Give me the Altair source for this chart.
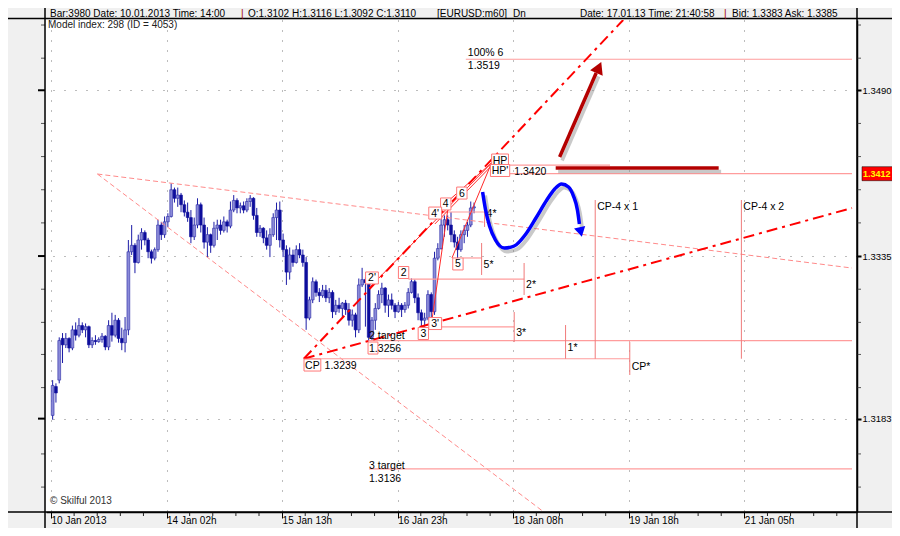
import altair as alt
import pandas as pd

# ---------------- candle data (EURUSD H1) ----------------
OPEN = [1.3186, 1.3213, 1.3219, 1.3258, 1.3252, 1.3258, 1.3249, 1.3266, 1.3261, 1.3270,
        1.3266, 1.3269, 1.3252, 1.3256, 1.3255, 1.3257, 1.3260, 1.3250, 1.3270, 1.3261,
        1.3275, 1.3258, 1.3254, 1.3266, 1.3339, 1.3345, 1.3329, 1.3350, 1.3357, 1.3350,
        1.3339, 1.3333, 1.3341, 1.3364, 1.3355, 1.3367, 1.3372, 1.3397, 1.3389, 1.3392,
        1.3383, 1.3376, 1.3371, 1.3353, 1.3364, 1.3383, 1.3364, 1.3348, 1.3355, 1.3345,
        1.3361, 1.3364, 1.3359, 1.3367, 1.3363, 1.3378, 1.3387, 1.3380, 1.3382, 1.3378,
        1.3386, 1.3389, 1.3373, 1.3357, 1.3361, 1.3352, 1.3345, 1.3355, 1.3371, 1.3378,
        1.3350, 1.3341, 1.3320, 1.3336, 1.3329, 1.3341, 1.3336, 1.3329, 1.3277, 1.3294,
        1.3311, 1.3301, 1.3298, 1.3303, 1.3296, 1.3301, 1.3283, 1.3289, 1.3286, 1.3291,
        1.3285, 1.3275, 1.3280, 1.3266, 1.3308, 1.3313, 1.3310, 1.3259, 1.3275, 1.3286,
        1.3299, 1.3305, 1.3289, 1.3294, 1.3289, 1.3283, 1.3289, 1.3285, 1.3289, 1.3301,
        1.3311, 1.3296, 1.3282, 1.3275, 1.3277, 1.3299, 1.3283, 1.3333, 1.3342, 1.3364,
        1.3369, 1.3364, 1.3355, 1.3348, 1.3341, 1.3355, 1.3359, 1.3364, 1.3380]
HIGH = [1.3219, 1.3216, 1.3259, 1.3263, 1.3263, 1.3259, 1.3270, 1.3273, 1.3277, 1.3273,
        1.3272, 1.3270, 1.3259, 1.3261, 1.3259, 1.3263, 1.3261, 1.3275, 1.3282, 1.3280,
        1.3277, 1.3268, 1.3278, 1.3350, 1.3364, 1.3347, 1.3355, 1.3361, 1.3359, 1.3352,
        1.3341, 1.3343, 1.3369, 1.3367, 1.3372, 1.3375, 1.3403, 1.3399, 1.3399, 1.3394,
        1.3387, 1.3385, 1.3378, 1.3371, 1.3389, 1.3385, 1.3371, 1.3362, 1.3356, 1.3367,
        1.3369, 1.3369, 1.3372, 1.3369, 1.3386, 1.3392, 1.3389, 1.3385, 1.3386, 1.3389,
        1.3392, 1.3390, 1.3380, 1.3364, 1.3362, 1.3359, 1.3361, 1.3375, 1.3385, 1.3386,
        1.3356, 1.3345, 1.3343, 1.3341, 1.3345, 1.3347, 1.3341, 1.3334, 1.3297, 1.3315,
        1.3313, 1.3305, 1.3308, 1.3308, 1.3305, 1.3303, 1.3294, 1.3296, 1.3292, 1.3294,
        1.3291, 1.3285, 1.3282, 1.3314, 1.3324, 1.3315, 1.3313, 1.3278, 1.3291, 1.3303,
        1.3310, 1.3306, 1.3299, 1.3300, 1.3291, 1.3292, 1.3291, 1.3292, 1.3305, 1.3314,
        1.3313, 1.3300, 1.3285, 1.3282, 1.3303, 1.3301, 1.3339, 1.3347, 1.3371, 1.3373,
        1.3373, 1.3376, 1.3359, 1.3353, 1.3359, 1.3364, 1.3367, 1.3386, 1.3385]
LOW = [1.3182, 1.3198, 1.3216, 1.3235, 1.3249, 1.3245, 1.3247, 1.3256, 1.3259, 1.3263,
       1.3259, 1.3249, 1.3249, 1.3252, 1.3254, 1.3254, 1.3247, 1.3247, 1.3255, 1.3259,
       1.3254, 1.3247, 1.3245, 1.3261, 1.3336, 1.3319, 1.3328, 1.3341, 1.3345, 1.3333,
       1.3328, 1.3331, 1.3339, 1.3350, 1.3352, 1.3362, 1.3371, 1.3385, 1.3381, 1.3376,
       1.3372, 1.3367, 1.3347, 1.3350, 1.3361, 1.3357, 1.3342, 1.3334, 1.3338, 1.3343,
       1.3350, 1.3355, 1.3357, 1.3357, 1.3361, 1.3376, 1.3375, 1.3375, 1.3375, 1.3376,
       1.3381, 1.3369, 1.3353, 1.3353, 1.3347, 1.3341, 1.3334, 1.3353, 1.3350, 1.3343,
       1.3334, 1.3308, 1.3313, 1.3325, 1.3328, 1.3333, 1.3325, 1.3266, 1.3275, 1.3291,
       1.3297, 1.3292, 1.3296, 1.3292, 1.3291, 1.3277, 1.3280, 1.3282, 1.3278, 1.3280,
       1.3270, 1.3269, 1.3259, 1.3263, 1.3306, 1.3269, 1.3256, 1.3256, 1.3266, 1.3285,
       1.3291, 1.3282, 1.3278, 1.3285, 1.3277, 1.3282, 1.3278, 1.3282, 1.3286, 1.3300,
       1.3291, 1.3275, 1.3269, 1.3269, 1.3275, 1.3278, 1.3280, 1.3331, 1.3341, 1.3353,
       1.3359, 1.3348, 1.3343, 1.3333, 1.3339, 1.3347, 1.3353, 1.3362, 1.3375]
CLOSE = [1.3214, 1.3207, 1.3256, 1.3252, 1.3258, 1.3249, 1.3266, 1.3261, 1.3270, 1.3266,
         1.3269, 1.3252, 1.3256, 1.3255, 1.3257, 1.3260, 1.3250, 1.3270, 1.3261, 1.3275,
         1.3258, 1.3254, 1.3266, 1.3339, 1.3345, 1.3329, 1.3350, 1.3357, 1.3350, 1.3339,
         1.3333, 1.3341, 1.3364, 1.3355, 1.3367, 1.3372, 1.3397, 1.3389, 1.3392, 1.3383,
         1.3376, 1.3371, 1.3353, 1.3364, 1.3383, 1.3364, 1.3348, 1.3355, 1.3345, 1.3361,
         1.3364, 1.3359, 1.3367, 1.3363, 1.3378, 1.3387, 1.3380, 1.3382, 1.3378, 1.3386,
         1.3389, 1.3373, 1.3357, 1.3361, 1.3352, 1.3345, 1.3355, 1.3371, 1.3378, 1.3350,
         1.3341, 1.3320, 1.3336, 1.3329, 1.3341, 1.3336, 1.3329, 1.3277, 1.3294, 1.3311,
         1.3301, 1.3298, 1.3303, 1.3296, 1.3301, 1.3283, 1.3289, 1.3286, 1.3291, 1.3285,
         1.3275, 1.3280, 1.3266, 1.3308, 1.3313, 1.3310, 1.3259, 1.3275, 1.3286, 1.3299,
         1.3305, 1.3289, 1.3294, 1.3289, 1.3283, 1.3289, 1.3285, 1.3289, 1.3301, 1.3311,
         1.3296, 1.3282, 1.3275, 1.3277, 1.3299, 1.3283, 1.3333, 1.3342, 1.3364, 1.3369,
         1.3364, 1.3355, 1.3348, 1.3341, 1.3355, 1.3359, 1.3364, 1.3380, 1.3381]

# ---------------- axes ----------------
X_LABEL_POS = [0, 35.1, 70.2, 105.3, 140.4, 175.5, 210.6]
X_LABELS = ["10 Jan 2013", "14 Jan 02h", "15 Jan 13h", "16 Jan 23h",
            "18 Jan 08h", "19 Jan 18h", "21 Jan 05h"]
Y_MAJOR = [1.3183, 1.3335, 1.3490]
Y_MINOR = [1.3119, 1.3150, 1.3212, 1.3243, 1.3273, 1.3304,
           1.3366, 1.3397, 1.3428, 1.3459, 1.3520, 1.3551]

# ---------------- annotations ----------------
DASH_PINK = [(14.1, 1.34117, 243.3, 1.33238), (14.1, 1.34117, 149.7, 1.30957)]
DASHDOT_RED = [(76.8, 1.3239, 173.8, 1.35557), (76.8, 1.3239, 243.3, 1.33799)]
THIN_RED = [(96.6, 1.33051, 133.8, 1.3422), (115.8, 1.33734, 133.8, 1.3422),
            (116.6, 1.33650, 134.0, 1.3420), (115.8, 1.32771, 120.6, 1.33799),
            (121.8, 1.33332, 133.8, 1.3422)]
H_LEVELS = [(126.0, 243.3, 1.3519), (133.2, 169.8, 1.3420), (139.2, 243.3, 1.3412),
            (96.6, 243.3, 1.3256), (96.6, 243.3, 1.3136), (76.8, 175.8, 1.3239),
            (108.6, 143.7, 1.33135), (118.2, 140.7, 1.32687), (125.1, 130.8, 1.33332),
            (118.2, 131.7, 1.33762)]
V_LEVELS = [(143.7, 1.33285, 1.32986), (140.7, 1.32827, 1.32546), (130.8, 1.33472, 1.33173),
            (131.7, 1.33762, 1.33622), (156.3, 1.32705, 1.3239), (165.3, 1.33874, 1.3239),
            (175.8, 1.32546, 1.32238), (209.7, 1.33874, 1.3239)]
BOX_TEXT = ["HP", "HP'", "6", "4", "4'", "2", "2'", "3'", "3", "5", "CP", ""]
BOX_X = [136.4, 136.4, 124.8, 119.9, 116.7, 107.1, 97.5, 116.7, 113.1, 123.6, 79.4, 97.8]
BOX_P = [1.34248, 1.34150, 1.33939, 1.33837, 1.33752, 1.33196, 1.33145, 1.32719,
         1.32626, 1.33276, 1.32331, 1.32490]
LAB_TEXT = ["100% 6", "1.3519", "1.3420", "CP-4 x 1", "CP-4 x 2", "2*", "3*", "5*", "4*",
            "1*", "CP*", "2 target", "1.3256", "1.3239", "3 target", "1.3136"]
LAB_X = [126.6, 126.6, 140.7, 165.9, 210.3, 144.3, 141.3, 131.4, 132.3,
         156.9, 176.4, 96.6, 96.6, 83.1, 96.6, 96.6]
LAB_P = [1.35248, 1.35127, 1.34136, 1.33808, 1.33808, 1.33079, 1.32630, 1.33266, 1.33743,
         1.32490, 1.32313, 1.32602, 1.32481, 1.32322, 1.31387, 1.31265]
BLUE_X = [131.1, 132.0, 133.2, 135.0, 137.7, 140.7, 144.0, 147.3, 150.6, 153.0,
          155.1, 157.2, 158.7, 159.9, 160.5]
BLUE_P = [1.33949, 1.33781, 1.33631, 1.33500, 1.33425, 1.33444, 1.33547, 1.33706,
          1.33874, 1.33977, 1.34024, 1.33996, 1.33911, 1.33781, 1.33650]
BLUE_HEAD = (160.9, 1.33575)
DRED_H = (153.3, 202.8, 1.34173)
DRED_ARROW = (154.5, 1.34276, 165.6, 1.35061)
DRED_HEAD = (166.4, 1.35113)
CURRENT_PRICE = 1.3412

# ---------------- layout ----------------
W, H = 811, 492
XDOM = [0, 243.3]
YDOM = [1.30957, 1.35557]
UPX = (XDOM[1] - XDOM[0]) / W
PPX = (YDOM[1] - YDOM[0]) / H
FONT = "Liberation Sans"
BULL, BEAR, WICK = "#8a8ad8", "#0d0d9c", "#1c1ca6"

xs = alt.Scale(domain=XDOM, nice=False, zero=False)
ys = alt.Scale(domain=YDOM, nice=False, zero=False)

xlab = " : ".join(f"datum.value == {p} ? '{t}'" for p, t in zip(X_LABEL_POS, X_LABELS)) + " : ''"
x_axis = alt.Axis(values=X_LABEL_POS, labelExpr=xlab, labelAlign="left", labelBaseline="top",
                  labelPadding=-3, labelFontSize=10, labelFont=FONT, labelColor="black",
                  labelOverlap=False, labelFlush=False, tickColor="black", tickSize=6,
                  tickWidth=1, grid=True, gridColor="#7a7a7a", gridDash=[1, 9],
                  domainColor="black", domainWidth=1.5, title=None)
y_axis = alt.Axis(values=Y_MAJOR, format=".4f", orient="right", labelPadding=1,
                  labelFontSize=9.5, labelFont=FONT, labelColor="black", labelOverlap=False,
                  labelFlush=False, tickColor="black", tickSize=4, tickWidth=2, grid=True,
                  gridColor="#7a7a7a", gridDash=[1, 10], domainColor="black",
                  domainWidth=1.5, title=None)


def X(f):
    return alt.X(f, type="quantitative", scale=xs, axis=x_axis, title=None)


def Y(f):
    return alt.Y(f, type="quantitative", scale=ys, axis=y_axis, title=None)


cdf = pd.DataFrame({"u": [i + 0.5 for i in range(len(CLOSE))], "open": OPEN,
                    "high": HIGH, "low": LOW, "close": CLOSE})
bull = alt.datum.close >= alt.datum.open

layers = []
layers.append(alt.Chart(cdf).mark_rule(color=WICK, strokeWidth=1).encode(
    x=X("u"), y=Y("low"), y2="high"))
layers.append(alt.Chart(cdf).mark_bar(size=2.8, strokeWidth=0.6).encode(
    x=X("u"), y=Y("open"), y2="close",
    fill=alt.when(bull).then(alt.value(BULL)).otherwise(alt.value(BEAR)),
    stroke=alt.when(bull).then(alt.value("#2a2aa6")).otherwise(alt.value(BEAR))))


def seg_df(rows):
    return pd.DataFrame(rows, columns=["x1", "p1", "x2", "p2"])


layers.append(alt.Chart(seg_df(DASH_PINK)).mark_rule(
    color="#ff8a8a", strokeWidth=1, strokeDash=[5, 3]).encode(
    x=X("x1"), x2="x2", y=Y("p1"), y2="p2"))

hdf = pd.DataFrame(H_LEVELS, columns=["x1", "x2", "p"])
layers.append(alt.Chart(hdf).mark_rule(color="#ff9c9c", strokeWidth=1.2).encode(
    x=X("x1"), x2="x2", y=Y("p")))
vdf = pd.DataFrame(V_LEVELS, columns=["x", "p1", "p2"])
layers.append(alt.Chart(vdf).mark_rule(color="#f07a7a", strokeWidth=1).encode(
    x=X("x"), y=Y("p1"), y2="p2"))

layers.append(alt.Chart(seg_df(THIN_RED)).mark_rule(color="#ff2a2a", strokeWidth=1).encode(
    x=X("x1"), x2="x2", y=Y("p1"), y2="p2"))
layers.append(alt.Chart(seg_df(DASHDOT_RED)).mark_rule(
    color="#ff0000", strokeWidth=2, strokeDash=[11, 5, 3, 5], clip=True).encode(
    x=X("x1"), x2="x2", y=Y("p1"), y2="p2"))

bw = [(4 + 6.5 * len(t.replace("'", "")) + (2.5 if "'" in t else 0)) if t else 10 for t in BOX_TEXT]
bdf = pd.DataFrame({"t": BOX_TEXT, "x": BOX_X, "p": BOX_P})
bdf["x1"] = [x - w / 2 * UPX for x, w in zip(BOX_X, bw)]
bdf["x2"] = [x + w / 2 * UPX for x, w in zip(BOX_X, bw)]
bdf["p1"] = bdf["p"] - 6 * PPX
bdf["p2"] = bdf["p"] + 6 * PPX
for i in range(len(bdf)):
    row = bdf.iloc[[i]]
    layers.append(alt.Chart(row).mark_rect(fill="white", stroke="#ff7878", strokeWidth=1).encode(
        x=X("x1"), x2="x2", y=Y("p1"), y2="p2"))
    layers.append(alt.Chart(row).mark_text(font=FONT, fontSize=10.5, color="black",
                                           align="center", baseline="middle", dy=0.5).encode(
        x=X("x"), y=Y("p"), text="t:N"))

ldf = pd.DataFrame({"t": LAB_TEXT, "x": LAB_X, "p": LAB_P})
layers.append(alt.Chart(ldf).mark_text(font=FONT, fontSize=10.5, color="black",
                                       align="left", baseline="middle").encode(
    x=X("x"), y=Y("p"), text="t:N"))

SHX, SHP = 2.5 * UPX, -3.5 * PPX
drh = pd.DataFrame({"x1": [DRED_H[0]], "x2": [DRED_H[1]], "p": [DRED_H[2]]})
dra = seg_df([DRED_ARROW])
layers.append(alt.Chart(drh.assign(x1=drh.x1 + SHX, x2=drh.x2 + SHX, p=drh.p + SHP)).mark_rule(
    color="#888888", opacity=0.45, strokeWidth=3.5).encode(x=X("x1"), x2="x2", y=Y("p")))
layers.append(alt.Chart(dra.assign(x1=dra.x1 + SHX, x2=dra.x2 + SHX, p1=dra.p1 + SHP,
                                   p2=dra.p2 + SHP)).mark_rule(
    color="#888888", opacity=0.45, strokeWidth=3.5).encode(
    x=X("x1"), x2="x2", y=Y("p1"), y2="p2"))
layers.append(alt.Chart(drh).mark_rule(color="#b40000", strokeWidth=3.5).encode(
    x=X("x1"), x2="x2", y=Y("p")))
layers.append(alt.Chart(dra).mark_rule(color="#b40000", strokeWidth=3.5).encode(
    x=X("x1"), x2="x2", y=Y("p1"), y2="p2"))
layers.append(alt.Chart(pd.DataFrame({"x": [DRED_HEAD[0]], "p": [DRED_HEAD[1]]})).mark_point(
    shape="triangle-up", filled=True, color="#b40000", opacity=1, size=190, angle=24).encode(
    x=X("x"), y=Y("p")))

blue = pd.DataFrame({"x": BLUE_X, "p": BLUE_P, "o": list(range(len(BLUE_X)))})
layers.append(alt.Chart(blue.assign(x=blue.x + SHX, p=blue.p + SHP)).mark_line(
    color="#777777", opacity=0.4, strokeWidth=4, interpolate="monotone").encode(
    x=X("x"), y=Y("p"), order="o:Q"))
layers.append(alt.Chart(blue).mark_line(color="#0000ff", strokeWidth=3.5,
                                        interpolate="monotone").encode(
    x=X("x"), y=Y("p"), order="o:Q"))
layers.append(alt.Chart(pd.DataFrame({"x": [BLUE_HEAD[0]], "p": [BLUE_HEAD[1]]})).mark_point(
    shape="triangle-down", filled=True, color="#0000ff", opacity=1, size=130, angle=347).encode(
    x=X("x"), y=Y("p")))

xminor = [round(a + k * 7.02, 2) for a in X_LABEL_POS for k in range(1, 5)]
layers.append(alt.Chart(pd.DataFrame({"u": xminor})).mark_rule(color="#222222").encode(
    x=X("u"), y=alt.value(H), y2=alt.value(H + 4)))
layers.append(alt.Chart(pd.DataFrame({"p": Y_MINOR})).mark_rule(color="#555555").encode(
    y=Y("p"), x=alt.value(W), x2=alt.value(W + 4)))
layers.append(alt.Chart(pd.DataFrame({"p": Y_MINOR})).mark_rule(color="#555555").encode(
    y=Y("p"), x=alt.value(-5), x2=alt.value(-1)))
layers.append(alt.Chart(pd.DataFrame({"p": Y_MAJOR})).mark_rule(color="black", strokeWidth=2).encode(
    y=Y("p"), x=alt.value(-8), x2=alt.value(-1)))

cp = pd.DataFrame({"p": [CURRENT_PRICE], "p1": [CURRENT_PRICE - 7 * PPX],
                   "p2": [CURRENT_PRICE + 7 * PPX], "t": ["1.3412"]})
layers.append(alt.Chart(cp).mark_rect(fill="#ff0000", stroke="black", strokeWidth=0.5).encode(
    x=alt.value(W + 5), x2=alt.value(W + 40), y=Y("p1"), y2="p2"))
layers.append(alt.Chart(cp).mark_text(font=FONT, fontSize=9, fontWeight="bold", color="#ffff00",
                                      align="left", baseline="middle").encode(
    x=alt.value(W + 6), y=Y("p"), text="t:N"))

one = pd.DataFrame({"a": [0]})
layers.append(alt.Chart(one).mark_rule(color="black", strokeWidth=1.5).encode(
    x=alt.value(-1), y=alt.value(-12), y2=alt.value(H + 16)))
layers.append(alt.Chart(one).mark_rule(color="black", strokeWidth=1.5).encode(
    x=alt.value(W), y=alt.value(-12), y2=alt.value(H + 16)))
layers.append(alt.Chart(one).mark_rule(color="black", strokeWidth=1.5).encode(
    y=alt.value(H), x=alt.value(-38), x2=alt.value(W + 35)))
layers.append(alt.Chart(one).mark_rule(color="black", strokeWidth=1.5).encode(
    y=alt.value(-1.5), x=alt.value(-38), x2=alt.value(W + 35)))


def ptext(t, px, py, color="black", size=10.5):
    return alt.Chart(one).mark_text(text=t, font=FONT, fontSize=size, color=color,
                                    align="left", baseline="middle").encode(
        x=alt.value(px), y=alt.value(py))


HEADER = [("Bar:3980 Date: 10.01.2013 Time: 14:00", 4, "black"), ("|", 195, "#a00000"),
          ("O:1.3102 H:1.3116 L:1.3092 C:1.3110", 202, "black"), ("[EURUSD:m60]", 391, "black"),
          ("Dn", 467, "black"), ("Date: 17.01.13 Time: 21:40:58", 534, "black"),
          ("|", 678, "#a00000"), ("Bid: 1.3383 Ask: 1.3385", 686, "black")]
for t, px, col in HEADER:
    layers.append(ptext(t, px, -6.5, col, 10))
layers.append(ptext("Model index: 298  (ID = 4053)", 2, 5, "#202020", 10))
layers.append(ptext("\u00a9 Skilful 2013", 4, 481, "#333333", 10))

chart = alt.layer(*layers).properties(
    width=W, height=H, autosize="none",
    padding={"left": 38, "top": 12, "right": 35, "bottom": 16},
    background="#f0f0f0",
).configure_view(fill="white", strokeWidth=0)

chart.save("out.html", embed_options={"renderer": "svg", "actions": False})
